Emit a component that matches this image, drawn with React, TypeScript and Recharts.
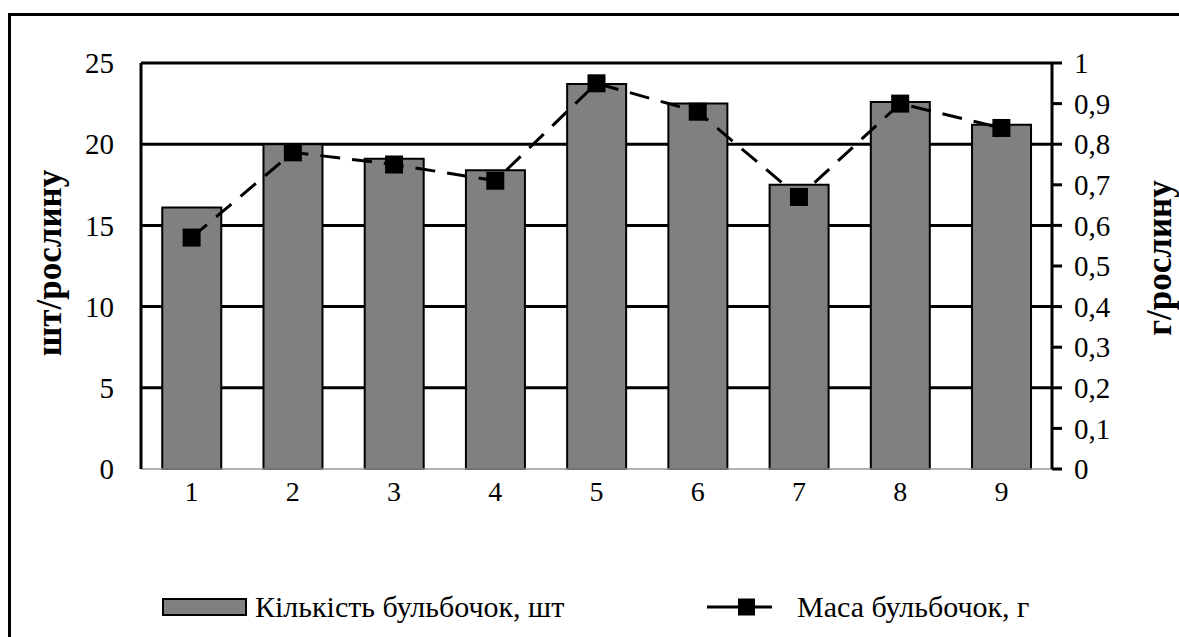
import { ComposedChart, Bar, Line, XAxis, YAxis, CartesianGrid } from 'recharts';

const categories = ['1', '2', '3', '4', '5', '6', '7', '8', '9'];
const countValues = [16.1, 20.0, 19.1, 18.4, 23.7, 22.5, 17.5, 22.6, 21.2];
const massValues = [0.57, 0.78, 0.75, 0.71, 0.95, 0.88, 0.67, 0.9, 0.84];
const leftTicks = [0, 5, 10, 15, 20, 25];
const rightTicks = [0, 0.1, 0.2, 0.3, 0.4, 0.5, 0.6, 0.7, 0.8, 0.9, 1];
const gridValues = [5, 10, 15, 20, 25];

const data = categories.map((c, i) => ({ name: c, count: countValues[i], mass: massValues[i] }));

const FONT = "'Times New Roman', 'Liberation Serif', 'DejaVu Serif', serif";

const SquareDot = (props: any) => {
  const { cx, cy } = props;
  if (cx == null || cy == null) return null;
  return <rect x={cx - 9} y={cy - 9} width={18} height={18} fill="#000" />;
};

export default function App() {
  return (
    <div style={{ position: 'fixed', left: 0, top: 0, width: 1179, height: 637, overflow: 'hidden', background: '#fff', fontFamily: FONT }}>
      <div style={{ position: 'absolute', left: 8, top: 13, width: 1250, height: 700, border: '3px solid #000' }} />
      <div style={{ position: 'absolute', left: 0, top: 0 }}>
        <ComposedChart
          width={1179}
          height={637}
          data={data}
          barCategoryGap="21%"
          margin={{ top: 63, right: 67, left: 81, bottom: 128 }}
          style={{ fontFamily: FONT }}
        >
          <CartesianGrid yAxisId="left" vertical={false} horizontalValues={gridValues} stroke="#000" strokeWidth={3} />
          <XAxis
            dataKey="name"
            tickLine={false}
            axisLine={{ stroke: '#999', strokeWidth: 1.5 }}
            tick={{ fontSize: 28, fill: '#000', fontFamily: FONT }}
            tickMargin={6}
            height={40}
          />
          <YAxis
            yAxisId="left"
            domain={[0, 25]}
            ticks={leftTicks}
            interval={0}
            width={60}
            tickLine={false}
            tickSize={6}
            tickMargin={21}
            axisLine={{ stroke: '#000', strokeWidth: 3 }}
            tick={{ fontSize: 29, fill: '#000', fontFamily: FONT }}
          />
          <YAxis
            yAxisId="right"
            orientation="right"
            domain={[0, 1]}
            ticks={rightTicks}
            interval={0}
            width={60}
            tickSize={10}
            tickMargin={12}
            tickFormatter={(v: number) => String(Math.round(v * 10) / 10).replace('.', ',')}
            axisLine={{ stroke: '#000', strokeWidth: 3 }}
            tickLine={{ stroke: '#000', strokeWidth: 3 }}
            tick={{ fontSize: 29, fill: '#000', fontFamily: FONT }}
          />
          <Bar yAxisId="left" dataKey="count" fill="#808080" stroke="#000" strokeWidth={2} isAnimationActive={false} />
          <Line
            yAxisId="right"
            dataKey="mass"
            type="linear"
            stroke="#000"
            strokeWidth={3}
            strokeDasharray="20 12"
            dot={<SquareDot />}
            activeDot={false}
            isAnimationActive={false}
          />
        </ComposedChart>
      </div>
      <div style={{ position: 'absolute', left: 49, top: 263, transform: 'translate(-50%, -50%) rotate(-90deg)', fontSize: 35, fontWeight: 'bold', whiteSpace: 'nowrap', lineHeight: 1 }}>
        шт/рослину
      </div>
      <div style={{ position: 'absolute', left: 1159, top: 258, transform: 'translate(-50%, -50%) rotate(-90deg)', fontSize: 35, fontWeight: 'bold', whiteSpace: 'nowrap', lineHeight: 1 }}>
        г/рослину
      </div>
      <div style={{ position: 'absolute', left: 162, top: 587, height: 40, display: 'flex', alignItems: 'center', fontSize: 30, whiteSpace: 'nowrap', lineHeight: 1 }}>
        <svg width={86} height={20} style={{ marginRight: 7 }}>
          <rect x={1} y={2} width={83} height={16} fill="#808080" stroke="#000" strokeWidth={2} />
        </svg>
        Кількість бульбочок, шт
      </div>
      <div style={{ position: 'absolute', left: 707, top: 587, height: 40, display: 'flex', alignItems: 'center', fontSize: 30, whiteSpace: 'nowrap', lineHeight: 1 }}>
        <svg width={65} height={20} style={{ marginRight: 25 }}>
          <line x1={0} y1={10} x2={65} y2={10} stroke="#000" strokeWidth={3} />
          <rect x={31} y={1.5} width={17} height={17} fill="#000" />
        </svg>
        Маса бульбочок, г
      </div>
    </div>
  );
}
